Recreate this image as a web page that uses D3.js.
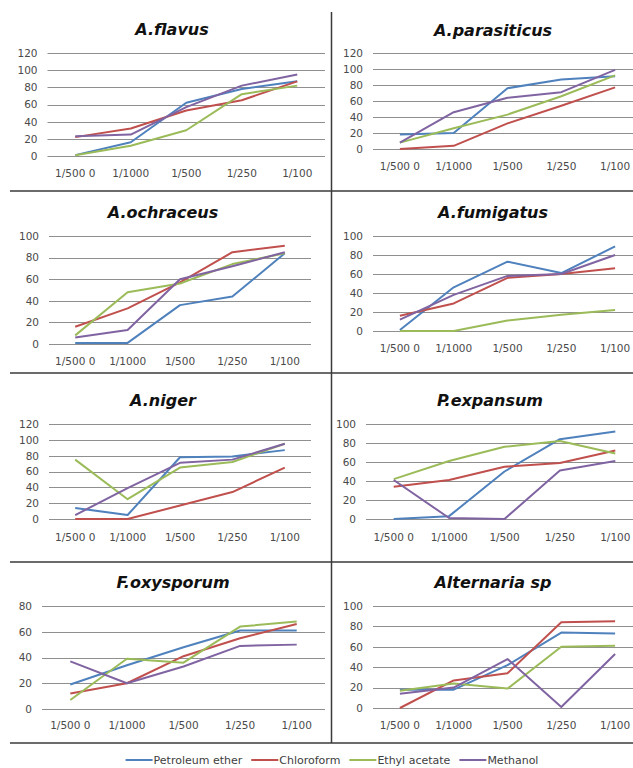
<!DOCTYPE html>
<html>
<head>
<meta charset="utf-8">
<script src="https://cdn.jsdelivr.net/npm/d3@7"></script>
<style>
  html, body { margin: 0; padding: 0; background: #fff; }
  svg { display: block; }
</style>
</head>
<body>
<svg id="chart" width="633" height="768"></svg>
<script>
// ---------- DATA ----------
const categories = ["1/500 0", "1/1000", "1/500", "1/250", "1/100"];
const seriesNames = ["Petroleum ether", "Chloroform", "Ethyl acetate", "Methanol"];
const seriesColors = ["#4F81BD", "#C0504D", "#9BBB59", "#8064A2"];
const panelTitles = ["A.flavus", "A.parasiticus", "A.ochraceus", "A.fumigatus",
                     "A.niger", "P.expansum", "F.oxysporum", "Alternaria sp"];
const yMaxValues = [120, 120, 100, 100, 120, 100, 80, 100];
const yTickStep = 20;

// each: [Petroleum ether, Chloroform, Ethyl acetate, Methanol]
const flavus       = [[1, 16, 62, 78, 87], [22, 32, 53, 65, 87], [1, 12, 30, 72, 82], [23, 25, 57, 82, 95]];
const parasiticus  = [[18, 20, 76, 87, 91], [0, 4, 32, 54, 77], [8, 26, 43, 66, 92], [8, 46, 64, 71, 99]];
const ochraceus    = [[1, 1, 36, 44, 84], [16, 33, 57, 85, 91], [8, 48, 56, 74, 84], [6, 13, 60, 72, 85]];
const fumigatus    = [[1, 46, 73, 61, 89], [16, 29, 56, 60, 66], [0, 0, 11, 17, 22], [12, 38, 58, 60, 80]];
const niger        = [[14, 5, 78, 79, 87], [0, 0, 17, 34, 65], [75, 25, 65, 72, 95], [5, 39, 71, 75, 95]];
const expansum     = [[0, 3, 50, 84, 92], [34, 41, 55, 59, 72], [42, 61, 76, 82, 69], [41, 1, 0, 51, 61]];
const oxysporum    = [[19, 34, 48, 61, 61], [12, 20, 41, 55, 66], [7, 39, 36, 64, 68], [37, 20, 33, 49, 50]];
const alternaria   = [[18, 18, 42, 74, 73], [0, 27, 34, 84, 85], [17, 24, 19, 60, 61], [14, 20, 48, 1, 53]];
const panelData = [flavus, parasiticus, ochraceus, fumigatus, niger, expansum, oxysporum, alternaria];

// ---------- LAYOUT ----------
const layout = [
  { x0: 47.5, x1: 325, yTop: 53,  yBot: 156, tx: 172, ty: 29,  ly: 173 },
  { x0: 373,  x1: 642, yTop: 53,  yBot: 149, tx: 493, ty: 30,  ly: 166 },
  { x0: 49,   x1: 311, yTop: 236, yBot: 344, tx: 163, ty: 212, ly: 361 },
  { x0: 373,  x1: 642, yTop: 236, yBot: 331, tx: 493, ty: 212, ly: 348 },
  { x0: 49,   x1: 311, yTop: 424, yBot: 519, tx: 163, ty: 400, ly: 537 },
  { x0: 366,  x1: 643, yTop: 424, yBot: 519, tx: 490, ty: 400, ly: 537 },
  { x0: 42,   x1: 325, yTop: 606, yBot: 709, tx: 173, ty: 582, ly: 725 },
  { x0: 373,  x1: 642, yTop: 606, yBot: 708, tx: 493, ty: 582, ly: 725 }
];

const svg = d3.select("#chart");
const tickFont = "'DejaVu Sans', sans-serif";

// separators
const sep = svg.append("g").attr("stroke", "#3a3a3a").attr("stroke-width", 1.5);
[191, 373, 562, 743].forEach(y => {
  sep.append("line").attr("x1", 10).attr("x2", 633).attr("y1", y).attr("y2", y);
});
sep.append("line").attr("x1", 331.5).attr("x2", 331.5).attr("y1", 12).attr("y2", 743);

panelData.forEach((data, i) => {
  const L = layout[i];
  const g = svg.append("g");
  const x = d3.scaleBand().domain(categories).range([L.x0, L.x1]);
  const y = d3.scaleLinear().domain([0, yMaxValues[i]]).range([L.yBot, L.yTop]);
  const ticks = d3.range(0, yMaxValues[i] + 1, yTickStep);

  // gridlines
  g.append("g").selectAll("line").data(ticks).join("line")
    .attr("x1", L.x0).attr("x2", L.x1)
    .attr("y1", d => Math.round(y(d)) + 0.5).attr("y2", d => Math.round(y(d)) + 0.5)
    .attr("stroke", "#8f8f8f").attr("stroke-width", 1);

  // y axis labels
  const yAxis = d3.axisLeft(y).tickValues(ticks).tickSize(0).tickPadding(10);
  const ya = g.append("g").attr("transform", `translate(${L.x0},0)`).call(yAxis);
  ya.select(".domain").remove();
  ya.selectAll("text").attr("font-family", tickFont).attr("font-size", 10.5).attr("fill", "#4a4a4a");

  // x axis labels
  const xAxis = d3.axisBottom(x).tickSize(0).tickPadding(0);
  const xa = g.append("g").attr("transform", `translate(0,${L.ly})`).call(xAxis);
  xa.select(".domain").remove();
  xa.selectAll("text").attr("dy", "0.35em").attr("y", 0)
    .attr("font-family", tickFont).attr("font-size", 10.5).attr("fill", "#4a4a4a");

  // lines
  const line = d3.line()
    .x((d, j) => x(categories[j]) + x.bandwidth() / 2)
    .y(d => y(d));
  data.forEach((s, k) => {
    g.append("path").datum(s)
      .attr("d", line)
      .attr("fill", "none")
      .attr("stroke", seriesColors[k])
      .attr("stroke-width", 2)
      .attr("stroke-linejoin", "round");
  });

  // title
  g.append("text").attr("x", L.tx).attr("y", L.ty).attr("dy", "0.35em")
    .attr("text-anchor", "middle")
    .attr("font-family", "'DejaVu Sans', sans-serif")
    .attr("font-weight", "bold").attr("font-style", "italic")
    .attr("font-size", 16).attr("fill", "#111")
    .text(panelTitles[i]);
});

// legend
const legend = svg.append("g");
const items = seriesNames.map((name, k) => {
  const it = legend.append("g");
  it.append("line").attr("x1", 0).attr("x2", 27).attr("y1", 0).attr("y2", 0)
    .attr("stroke", seriesColors[k]).attr("stroke-width", 2);
  const t = it.append("text").attr("x", 28).attr("y", 0).attr("dy", "0.35em")
    .attr("font-family", tickFont).attr("font-size", 11).attr("fill", "#404040")
    .text(name);
  return { it, w: 28 + t.node().getComputedTextLength() };
});
const gap = 9;
const total = d3.sum(items, d => d.w) + gap * (items.length - 1);
let cx = 332 - total / 2;
items.forEach(d => {
  d.it.attr("transform", `translate(${cx},760)`);
  cx += d.w + gap;
});
</script>
</body>
</html>
